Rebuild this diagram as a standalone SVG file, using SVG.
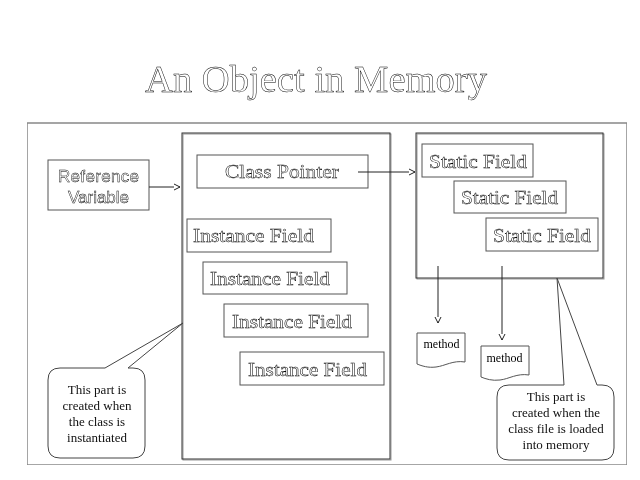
<svg xmlns="http://www.w3.org/2000/svg" width="640" height="480" viewBox="0 0 640 480">
  <style>
    .box { fill: #fff; stroke: #555; stroke-width: 1; }
    .frame { fill: none; stroke: #333; stroke-width: 1; }
    .hollow { fill: #fff; stroke: #000; stroke-width: 0.45; }
    .serif { font-family: "Liberation Serif", "Times New Roman", serif; }
    .sans { font-family: "Liberation Sans", Arial, sans-serif; }
    .note { fill: #111; stroke: none; font-size: 13px; text-anchor: middle; }
    .meth { fill: #000; stroke: none; font-size: 12px; text-anchor: middle; }
    .wire { fill: none; stroke: #222; stroke-width: 1; }
    .callout { fill: #fff; stroke: #444; stroke-width: 1; }
  </style>
  <defs>
    <marker id="open" markerWidth="8" markerHeight="8" refX="7" refY="4" orient="auto" markerUnits="userSpaceOnUse">
      <path d="M1,1 L7,4 L1,7" fill="#fff" stroke="#222" stroke-width="1"/>
    </marker>
    <!-- identity pass so glyphs are drawn with plain greyscale smoothing -->
    <filter id="flat" x="0" y="0" width="1" height="1">
      <feColorMatrix type="identity"/>
    </filter>
  </defs>

  <rect width="640" height="480" fill="#fff"/>

  <g filter="url(#flat)">
  <text id="title" class="hollow serif" x="145" y="92" font-size="37" textLength="342" lengthAdjust="spacingAndGlyphs" stroke-width="0.6">An Object in Memory</text>

  <!-- outer frame -->
  <rect x="27" y="123" width="600" height="342" fill="none" stroke="#888" stroke-width="1.5"/>

  <g id="reference-variable">
    <rect class="box" x="48" y="160" width="101" height="50"/>
    <text class="hollow sans" x="98.5" y="182" font-size="17" text-anchor="middle" stroke-width="0.4" textLength="81">Reference</text>
    <text class="hollow sans" x="98.5" y="203" font-size="17" text-anchor="middle" stroke-width="0.4">Variable</text>
  </g>

  <g id="object">
    <rect x="183" y="134" width="208" height="326" fill="none" stroke="#999" stroke-width="1"/>
    <rect class="frame" x="182" y="133" width="208" height="326"/>
  </g>

  <g id="class-pointer">
    <rect class="box" x="197" y="155" width="171" height="33"/>
    <text class="hollow serif" x="225" y="178" font-size="19" textLength="114" lengthAdjust="spacingAndGlyphs">Class Pointer</text>
  </g>

  <g id="instance-field-1">
    <rect class="box" x="187" y="219" width="144" height="33"/>
    <text class="hollow serif" x="193" y="242" font-size="18" textLength="121" lengthAdjust="spacingAndGlyphs">Instance Field</text>
  </g>
  <g id="instance-field-2">
    <rect class="box" x="203" y="262" width="144" height="32"/>
    <text class="hollow serif" x="210" y="285" font-size="18" textLength="120" lengthAdjust="spacingAndGlyphs">Instance Field</text>
  </g>
  <g id="instance-field-3">
    <rect class="box" x="224" y="304" width="144" height="33"/>
    <text class="hollow serif" x="232" y="328" font-size="18" textLength="120" lengthAdjust="spacingAndGlyphs">Instance Field</text>
  </g>
  <g id="instance-field-4">
    <rect class="box" x="240" y="352" width="144" height="33"/>
    <text class="hollow serif" x="248" y="376" font-size="18" textLength="119" lengthAdjust="spacingAndGlyphs">Instance Field</text>
  </g>

  <g id="class-data">
    <rect x="417" y="134" width="187" height="145" fill="none" stroke="#999" stroke-width="1"/>
    <rect class="frame" x="416" y="133" width="187" height="145"/>
  </g>

  <g id="static-field-1">
    <rect class="box" x="422" y="144" width="111" height="33"/>
    <text class="hollow serif" x="429" y="168" font-size="18" textLength="98" lengthAdjust="spacingAndGlyphs">Static Field</text>
  </g>
  <g id="static-field-2">
    <rect class="box" x="454" y="181" width="112" height="32"/>
    <text class="hollow serif" x="461" y="204" font-size="18" textLength="97" lengthAdjust="spacingAndGlyphs">Static Field</text>
  </g>
  <g id="static-field-3">
    <rect class="box" x="486" y="218" width="112" height="33"/>
    <text class="hollow serif" x="493" y="242" font-size="18" textLength="98" lengthAdjust="spacingAndGlyphs">Static Field</text>
  </g>

  <g id="method-1">
    <path class="box" d="M417,333 H465 V362 C453,360 445,366 436,367 C428,368 422,366 417,364 Z"/>
    <text class="meth serif" x="441.5" y="348">method</text>
  </g>
  <g id="method-2">
    <path class="box" d="M481,346 H529 V375 C517,373 509,379 500,380 C492,381 486,379 481,377 Z"/>
    <text class="meth serif" x="504.5" y="362">method</text>
  </g>

  <g id="connectors">
    <line class="wire" x1="149" y1="187" x2="180" y2="187" marker-end="url(#open)"/>
    <line class="wire" x1="358" y1="172" x2="415" y2="172" marker-end="url(#open)"/>
    <line class="wire" x1="438" y1="266" x2="438" y2="323" marker-end="url(#open)"/>
    <line class="wire" x1="502" y1="266" x2="502" y2="340" marker-end="url(#open)"/>
  </g>

  <g id="note-instance">
    <path class="callout" d="M183,323 L128,368 H133 Q145,368 145,380 V446 Q145,458 133,458 H60 Q48,458 48,446 V380 Q48,368 60,368 H105 Z"/>
    <text class="note serif" x="97" y="394">This part is</text>
    <text class="note serif" x="97" y="410">created when</text>
    <text class="note serif" x="97" y="426">the class is</text>
    <text class="note serif" x="97" y="442">instantiated</text>
  </g>

  <g id="note-class">
    <path class="callout" d="M557,278 L597,385 H602 Q614,385 614,397 V448 Q614,460 602,460 H509 Q497,460 497,448 V397 Q497,385 509,385 H564 Z"/>
    <text class="note serif" x="556" y="401">This part is</text>
    <text class="note serif" x="556" y="417">created when the</text>
    <text class="note serif" x="556" y="433">class file is loaded</text>
    <text class="note serif" x="556" y="449">into memory</text>
  </g>
  </g>
</svg>
